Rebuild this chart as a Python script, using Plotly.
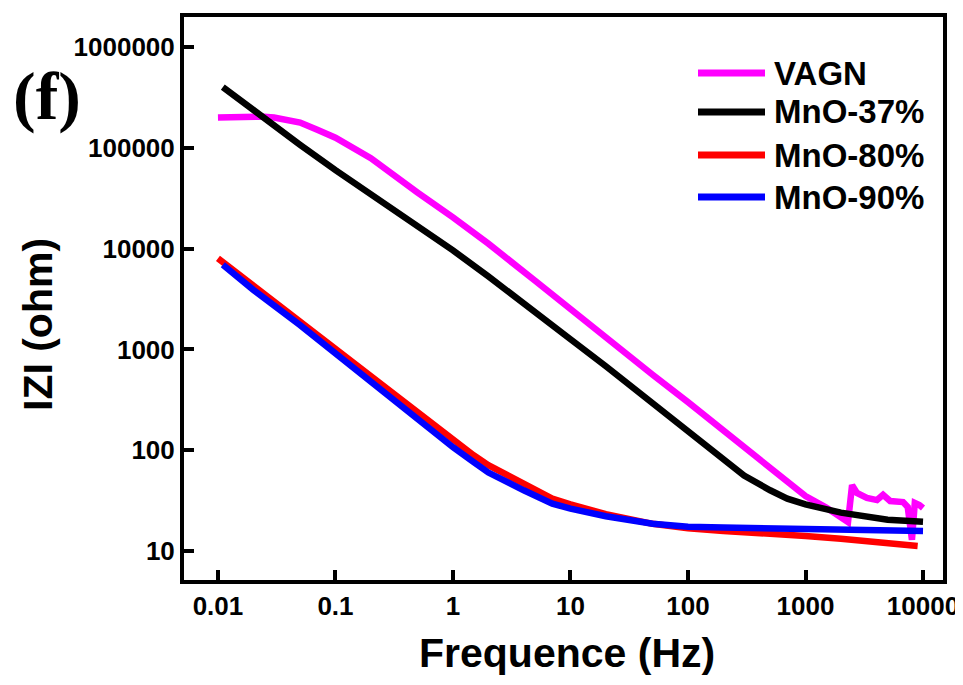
import plotly.graph_objects as go

# ---- data ----
names = ["VAGN", "MnO-37%", "MnO-80%", "MnO-90%"]
colors = ["#FF00FF", "#000000", "#FF0000", "#0000FF"]

f_vagn = [0.01, 0.0155, 0.023, 0.03, 0.05, 0.07, 0.1, 0.2, 0.3, 0.5, 1, 2, 5, 10, 20, 50,
          100, 200, 500, 1000, 1500, 2200, 2300, 2490, 2740, 3330, 4060, 4570, 5250,
          6760, 7410, 8050, 8510, 9300, 10000]
z_vagn = [200000, 206000, 204000, 200000, 178000, 151000, 126000, 79000, 55000, 36000,
          20400, 11200, 4800, 2500, 1300, 560, 300, 158, 69, 35, 27, 20.4, 19.4, 45,
          37.6, 33.6, 32, 36, 31.3, 30.6, 27.3, 12.9, 30, 28.6, 26.7]

f_37 = [0.011, 0.02, 0.05, 0.1, 0.2, 0.5, 1, 2, 5, 10, 20, 50, 100, 200, 300, 500, 700,
        1000, 1500, 2000, 5000, 10000]
z_37 = [400000, 235000, 107000, 60000, 35000, 16600, 9600, 5300, 2400, 1260, 680, 290,
        150, 80, 56, 40, 33, 29, 25.7, 24, 20.4, 19.5]

f_80 = [0.01, 0.02, 0.05, 0.1, 0.2, 0.5, 1, 1.5, 2, 4, 5, 7, 10, 20, 50, 100, 200, 500,
        1000, 2000, 5000, 9000]
z_80 = [8000, 4300, 1900, 1000, 525, 235, 126, 89, 71, 47, 40, 33, 29, 23.2, 18.6, 16.8,
        15.8, 15, 14.1, 13.2, 12, 11.2]

f_90 = [0.011, 0.02, 0.05, 0.1, 0.2, 0.5, 1, 1.5, 2, 4, 5, 7, 10, 20, 50, 100, 200, 500,
        1000, 2000, 5000, 10000]
z_90 = [6900, 3900, 1740, 910, 480, 210, 107, 76, 60, 40, 35.5, 29.5, 26.3, 22.1, 18.6,
        17.4, 17.1, 16.8, 16.6, 16.4, 16.2, 15.8]

x_tickvals = [0.01, 0.1, 1, 10, 100, 1000, 10000]
x_ticktext = ["0.01", "0.1", "1", "10", "100", "1000", "10000"]
y_tickvals = [10, 100, 1000, 10000, 100000, 1000000]
y_ticktext = ["10", "100", "1000", "10000", "100000", "1000000"]

x_title = "Frequence (Hz)"
y_title = "IZI (ohm)"
panel_label = "(f)"

series = [(f_vagn, z_vagn), (f_37, z_37), (f_80, z_80), (f_90, z_90)]

# ---- figure ----
fig = go.Figure()
for (fx, zy), name, col in zip(series, names, colors):
    fig.add_trace(go.Scatter(x=fx, y=zy, mode="lines", name=name,
                             line=dict(color=col, width=6.5), showlegend=False))

# the page body has an 8px margin; lay the figure out in page pixels minus that offset
OFF = 8
W, H = 963 - OFF, 685 - 2 * OFF
ml, mt = 184 - OFF, 17 - OFF
mr = W - (943 - OFF)
mb = H - (580 - OFF)
pw, ph = W - ml - mr, H - mt - mb

def px(xp):  # page x pixel -> paper fraction
    return (xp - OFF - ml) / pw

def py(yp):  # page y pixel -> paper fraction
    return (H - mb - (yp - OFF)) / ph

tickfont = dict(family="Liberation Sans, Arial, sans-serif", size=26, color="black", weight="bold")
axis_common = dict(type="log", showline=True, linecolor="black", linewidth=4, mirror=True,
                   ticks="inside", ticklen=10, tickwidth=4, tickcolor="black",
                   showgrid=False, zeroline=False, tickfont=tickfont, automargin=False)

fig.update_xaxes(range=[-2.289, 4.170], tickvals=x_tickvals, ticktext=x_ticktext, **axis_common)
fig.update_yaxes(range=[0.712, 6.298], tickvals=y_tickvals, ticktext=y_ticktext, **axis_common)

titlefont = dict(family="Liberation Sans, Arial, sans-serif", size=41,
                 color="black", weight="bold")
annotations = [
    dict(text=x_title, xref="paper", yref="paper", x=px(567), y=py(653), xanchor="center",
         yanchor="middle", showarrow=False, font=titlefont),
    dict(text=y_title, xref="paper", yref="paper", x=px(38), y=py(325), xanchor="center",
         yanchor="middle", textangle=-90, showarrow=False, font=titlefont),
    dict(text=panel_label, xref="paper", yref="paper", x=px(47), y=py(96), xanchor="center",
         yanchor="middle", showarrow=False,
         font=dict(family="Liberation Serif, Times New Roman, serif", size=68, color="black",
                   weight="bold")),
]

# legend drawn manually (long line samples as in the reference)
leg_rows = [73, 112, 155, 197]
shapes = []
for name, col, yr in zip(names, colors, leg_rows):
    shapes.append(dict(type="line", xref="paper", yref="paper", x0=px(698), x1=px(765),
                       y0=py(yr), y1=py(yr), line=dict(color=col, width=7)))
    annotations.append(dict(text=name, xref="paper", yref="paper", x=px(772), y=py(yr),
                            xanchor="left", yanchor="middle", showarrow=False,
                            font=dict(family="Liberation Sans, Arial, sans-serif", size=33,
                                      color="black", weight="bold")))

fig.update_layout(width=W, height=H, margin=dict(l=ml, r=mr, t=mt, b=mb, pad=0, autoexpand=False),
                  paper_bgcolor="white", plot_bgcolor="white",
                  annotations=annotations, shapes=shapes, showlegend=False)

fig.write_html("out.html")
